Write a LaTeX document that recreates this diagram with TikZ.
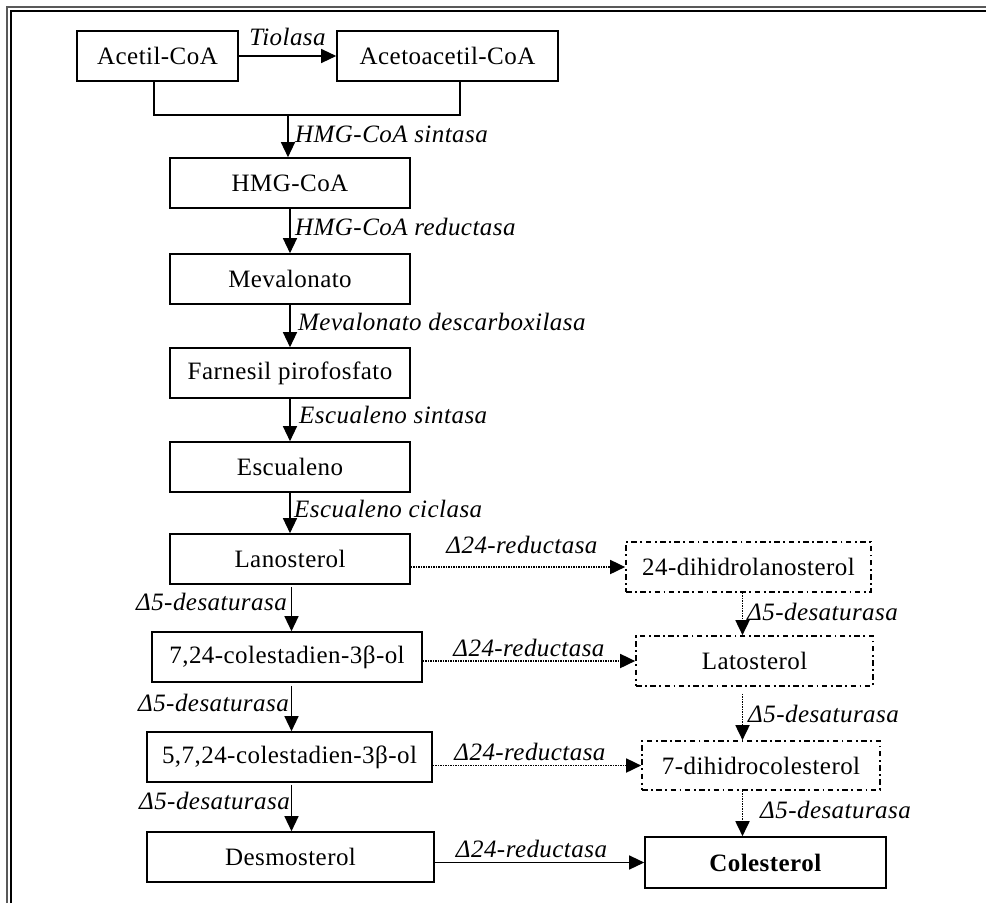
\documentclass[tikz,border=0pt]{standalone}
\usepackage{fontspec}
\setmainfont{Liberation Serif}[LetterSpace=1.8]
\usetikzlibrary{arrows.meta,calc}

\tikzset{
  txt/.style={font=\fontsize{25}{29}\selectfont},
  stage/.style={txt, draw, line width=1.6pt, minimum height=50pt, inner sep=0pt, align=center},
  altstage/.style={stage, line width=1.7pt, dash pattern=on 5.5pt off 3.5pt on 1.8pt off 3.5pt},
  link/.style={line width=1.3pt},
  flow/.style={link, -{Triangle[length=15pt,width=14pt]}},
  altflow/.style={flow, line width=1.8pt, dash pattern=on 1.4pt off 1.1pt},
  enz/.style={font=\fontsize{25}{29}\selectfont\itshape, inner sep=0pt},
}

\begin{document}
\begin{tikzpicture}[x=1pt, y=-1pt]
\useasboundingbox (0,0) rectangle (986,903);

% double frame
\draw[line width=1.5pt, black!65] (7,903) -- (7,7) -- (986,7);
\draw[line width=2pt] (11.3,903) -- (11.3,11.3) -- (986,11.3);

% main pathway
\node[stage, minimum width=161pt] (acetil) at (157.5,56) {Acetil-CoA};
\node[stage, minimum width=221pt] (acetoacetil) at (447.5,56) {Acetoacetil-CoA};
\node[stage, minimum width=240pt] (hmg) at (290,183) {HMG-CoA};
\node[stage, minimum width=240pt] (mev) at (290,279) {Mevalonato};
\node[stage, minimum width=240pt] (farn) at (290,373) {Farnesil pirofosfato};
\node[stage, minimum width=240pt] (escu) at (290,467) {Escualeno};
\node[stage, minimum width=240pt] (lano) at (290,559) {Lanosterol};
\node[stage, minimum width=270pt] (c724) at (287,657) {7,24-colestadien-3β-ol};
\node[stage, minimum width=285pt] (c5724) at (289.5,757) {5,7,24-colestadien-3β-ol};
\node[stage, minimum width=287pt] (desmo) at (290.5,857) {Desmosterol};

% alternative branch
\node[altstage, minimum width=245pt] (dihlan) at (748.5,567) {24-dihidrolanosterol};
\node[altstage, minimum width=237pt] (lato) at (754.5,661) {Latosterol};
\node[altstage, minimum width=238pt, minimum height=49pt] (dhc) at (761,765.5) {7-dihidrocolesterol};
\node[stage, minimum width=241pt, minimum height=51pt] (coles) at (765.5,862.5) {\textbf{Colesterol}};

% condensation steps
\draw[flow] (acetil) -- (acetoacetil)
  node[enz, midway, anchor=base, yshift=11pt] (e1) {Tiolasa};
\coordinate (join) at (288,115);
\draw[link] ([xshift=-3.5pt]acetil.south) |- (join) -| ([xshift=12.5pt]acetoacetil.south);
\draw[flow] (join) -- (join |- hmg.north);
\node[enz, anchor=base west] (e2) at (295,142) {HMG-CoA sintasa};

\draw[flow] (hmg) -- (mev);
\node[enz, anchor=base west] (e3) at (295,235) {HMG-CoA reductasa};
\draw[flow] (mev) -- (farn);
\node[enz, anchor=base west] (e4) at (298,330) {Mevalonato descarboxilasa};
\draw[flow] (farn) -- (escu);
\node[enz, anchor=base west] (e5) at (299,423) {Escualeno sintasa};
\draw[flow] (escu) -- (lano);
\node[enz, anchor=base west] (e6) at (294,517) {Escualeno ciclasa};

% desaturation along the main column
\coordinate (spine) at (291.5,0);
\draw[flow, shorten <=2pt] (lano.south -| spine) -- (c724.north -| spine);
\node[enz, anchor=base east] (e7) at (287,610) {Δ5-desaturasa};
\draw[flow, shorten <=3pt] (c724.south -| spine) -- (c5724.north -| spine);
\node[enz, anchor=base east] (e8) at (289,711) {Δ5-desaturasa};
\draw[flow, shorten <=2pt] (c5724.south -| spine) -- (desmo.north -| spine);
\node[enz, anchor=base east] (e9) at (290,809) {Δ5-desaturasa};

% desaturation along the alternative column
\coordinate (rspine) at (742.5,0);
\draw[altflow] (dihlan.south -| rspine) -- (lato.north -| rspine);
\node[enz, anchor=base west] (e10) at (747,620) {Δ5-desaturasa};
\draw[altflow, shorten <=7pt] (lato.south -| rspine) -- (dhc.north -| rspine);
\node[enz, anchor=base west] (e11) at (748,722) {Δ5-desaturasa};
\draw[altflow] (dhc.south -| rspine) -- (coles.north -| rspine);
\node[enz, anchor=base west] (e12) at (760,818) {Δ5-desaturasa};

% reductions between the columns
\draw[altflow] (lano.east |- dihlan.west) -- (dihlan.west)
  node[enz, midway, anchor=base, yshift=14pt, xshift=4pt] (e13) {Δ24-reductasa};
\draw[altflow] (c724.east |- lato.west) -- (lato.west)
  node[enz, midway, anchor=base, yshift=5pt] (e14) {Δ24-reductasa};
\draw[altflow] (c5724.east |- dhc.west) -- (dhc.west)
  node[enz, midway, anchor=base, yshift=5pt, xshift=-7pt] (e15) {Δ24-reductasa};
\draw[flow] (desmo.east |- coles.west) -- (coles.west)
  node[enz, midway, anchor=base, yshift=5pt, xshift=-8pt] (e16) {Δ24-reductasa};
\end{tikzpicture}
\end{document}
